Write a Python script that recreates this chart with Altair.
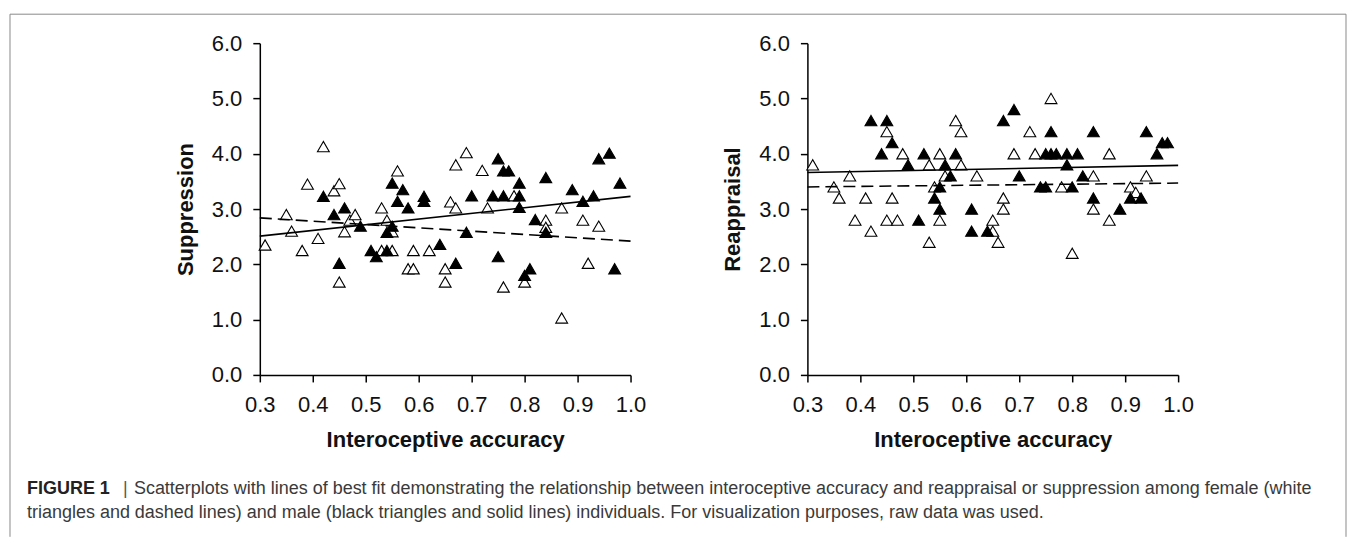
import altair as alt
import pandas as pd

FONT = "Liberation Sans"

# ---------------- data: Suppression panel ----------------
sup_female_x = [0.31, 0.35, 0.36, 0.38, 0.39, 0.41, 0.42, 0.44, 0.45, 0.45, 0.46, 0.47, 0.48,
                0.53, 0.53, 0.54, 0.55, 0.55, 0.56, 0.58, 0.59, 0.59, 0.62, 0.65, 0.65, 0.66,
                0.67, 0.67, 0.69, 0.72, 0.73, 0.76, 0.78, 0.80, 0.84, 0.84, 0.87, 0.87, 0.91,
                0.92, 0.94]
sup_female_y = [2.35, 2.90, 2.60, 2.25, 3.45, 2.47, 4.13, 3.33, 3.46, 1.68, 2.59, 2.80, 2.90,
                3.02, 2.25, 2.80, 2.59, 2.25, 3.69, 1.92, 1.92, 2.25, 2.25, 1.92, 1.68, 3.13,
                3.80, 3.02, 4.02, 3.70, 3.02, 1.59, 3.24, 1.68, 2.80, 2.67, 3.02, 1.03, 2.80,
                2.02, 2.69]
sup_male_x = [0.42, 0.44, 0.45, 0.46, 0.49, 0.51, 0.52, 0.54, 0.54, 0.55, 0.55, 0.56, 0.57,
              0.58, 0.61, 0.61, 0.64, 0.67, 0.69, 0.70, 0.74, 0.75, 0.75, 0.76, 0.77, 0.76,
              0.79, 0.79, 0.79, 0.80, 0.81, 0.82, 0.84, 0.84, 0.89, 0.91, 0.93, 0.94, 0.96,
              0.97, 0.98]
sup_male_y = [3.23, 2.90, 2.02, 3.02, 2.69, 2.25, 2.14, 2.25, 2.58, 3.47, 2.69, 3.14, 3.35,
              3.02, 3.23, 3.14, 2.36, 2.02, 2.58, 3.24, 3.24, 3.91, 2.14, 3.69, 3.69, 3.24,
              3.47, 3.24, 3.03, 1.80, 1.92, 2.81, 3.57, 2.58, 3.35, 3.14, 3.24, 3.91, 4.01,
              1.92, 3.47]
sup_fit_x = [0.3, 1.0]
sup_fit_male_y = [2.51, 3.23]
sup_fit_female_y = [2.84, 2.42]

# ---------------- data: Reappraisal panel ----------------
rea_female_x = [0.31, 0.35, 0.36, 0.38, 0.39, 0.41, 0.42, 0.45, 0.45, 0.46, 0.47, 0.48, 0.53,
                0.53, 0.54, 0.55, 0.55, 0.56, 0.58, 0.59, 0.59, 0.62, 0.65, 0.65, 0.66, 0.67,
                0.67, 0.69, 0.72, 0.73, 0.76, 0.78, 0.80, 0.84, 0.84, 0.87, 0.87, 0.91, 0.92,
                0.94]
rea_female_y = [3.8, 3.4, 3.2, 3.6, 2.8, 3.2, 2.6, 4.4, 2.8, 3.2, 2.8, 4.0, 3.8,
                2.4, 3.4, 4.0, 2.8, 3.6, 4.6, 4.4, 3.8, 3.6, 2.8, 2.6, 2.4, 3.2,
                3.0, 4.0, 4.4, 4.0, 5.0, 3.4, 2.2, 3.6, 3.0, 4.0, 2.8, 3.4, 3.3,
                3.6]
rea_male_x = [0.42, 0.45, 0.44, 0.46, 0.49, 0.51, 0.52, 0.54, 0.55, 0.55, 0.56, 0.57, 0.58,
              0.61, 0.61, 0.64, 0.67, 0.69, 0.70, 0.74, 0.75, 0.76, 0.75, 0.76, 0.77, 0.79,
              0.81, 0.79, 0.80, 0.82, 0.84, 0.84, 0.89, 0.91, 0.93, 0.94, 0.96, 0.97, 0.98]
rea_male_y = [4.6, 4.6, 4.0, 4.2, 3.8, 2.8, 4.0, 3.2, 3.4, 3.0, 3.8, 3.6, 4.0,
              3.0, 2.6, 2.6, 4.6, 4.8, 3.6, 3.4, 3.4, 4.4, 4.0, 4.0, 4.0, 4.0,
              4.0, 3.8, 3.4, 3.6, 4.4, 3.2, 3.0, 3.2, 3.2, 4.4, 4.0, 4.2, 4.2]
rea_fit_x = [0.3, 1.0]
rea_fit_male_y = [3.66, 3.79]
rea_fit_female_y = [3.40, 3.47]

x_ticks = [0.3, 0.4, 0.5, 0.6, 0.7, 0.8, 0.9, 1.0]
y_ticks = [0, 1, 2, 3, 4, 5, 6]

x_title = "Interoceptive accuracy"
y_titles = ["Suppression", "Reappraisal"]

caption_bold = ["FIGURE 1"]
caption_sep = ["|"]
caption_line1 = ["Scatterplots with lines of best fit demonstrating the relationship between "
                 "interoceptive accuracy and reappraisal or suppression among female (white"]
caption_line2 = ["triangles and dashed lines) and male (black triangles and solid lines) "
                 "individuals. For visualization purposes, raw data was used."]


def panel(fx, fy, mx, my, fit_x, fit_m, fit_f, ytitle, w):
    xs = alt.Scale(domain=[0.3, 1.0], nice=False, zero=False)
    ys = alt.Scale(domain=[0, 6], nice=False, zero=False)
    xa = alt.Axis(values=x_ticks, format=".1f", title=x_title, grid=False,
                  labelFlush=False, labelOverlap=False, tickSize=7,
                  labelPadding=13, titlePadding=14)
    ya = alt.Axis(values=y_ticks, format=".1f", title=ytitle, grid=False,
                  labelOverlap=False, tickSize=7, labelPadding=11, titlePadding=14)
    X = alt.X("x:Q", scale=xs, axis=xa)
    Y = alt.Y("y:Q", scale=ys, axis=ya)
    female = alt.Chart(pd.DataFrame({"x": fx, "y": fy})).mark_point(
        shape="triangle-up", size=140, filled=True, fill="white", stroke="black",
        strokeWidth=1.1, opacity=1).encode(x=X, y=Y)
    male = alt.Chart(pd.DataFrame({"x": mx, "y": my})).mark_point(
        shape="triangle-up", size=140, filled=True, fill="black", stroke="black",
        strokeWidth=1.1, opacity=1).encode(x=X, y=Y)
    male_line = alt.Chart(pd.DataFrame({"x": fit_x, "y": fit_m})).mark_line(
        color="black", strokeWidth=1.6).encode(x=X, y=Y)
    female_line = alt.Chart(pd.DataFrame({"x": fit_x, "y": fit_f})).mark_line(
        color="black", strokeWidth=1.6, strokeDash=[12, 6]).encode(x=X, y=Y)
    return alt.layer(female, male, male_line, female_line).properties(width=w, height=332)


left = panel(sup_female_x, sup_female_y, sup_male_x, sup_male_y,
             sup_fit_x, sup_fit_male_y, sup_fit_female_y, y_titles[0], 371)
right = panel(rea_female_x, rea_female_y, rea_male_x, rea_male_y,
              rea_fit_x, rea_fit_male_y, rea_fit_female_y, y_titles[1], 371)

# caption + figure frame (positions relative to the caption cell origin)
cap_bold = alt.Chart(pd.DataFrame({"t": caption_bold})).mark_text(
    align="left", baseline="alphabetic", font=FONT, fontSize=18, fontWeight="bold",
    color="#222222").encode(x=alt.value(-233), y=alt.value(59), text="t:N")
cap_sep = alt.Chart(pd.DataFrame({"t": caption_sep})).mark_text(
    align="left", baseline="alphabetic", font=FONT, fontSize=18,
    color="#555555").encode(x=alt.value(-137), y=alt.value(59), text="t:N")
cap_l1 = alt.Chart(pd.DataFrame({"t": caption_line1})).mark_text(
    align="left", baseline="alphabetic", font=FONT, fontSize=18,
    color="#3a3a3a").encode(x=alt.value(-126), y=alt.value(59), text="t:N")
cap_l2 = alt.Chart(pd.DataFrame({"t": caption_line2})).mark_text(
    align="left", baseline="alphabetic", font=FONT, fontSize=18,
    color="#3a3a3a").encode(x=alt.value(-233), y=alt.value(83), text="t:N")

frame_src = pd.DataFrame({"k": [0]})
frame_top = alt.Chart(frame_src).mark_rule(color="#8a8a8a", strokeWidth=1).encode(
    x=alt.value(-250), x2=alt.value(1087), y=alt.value(-421))
frame_left = alt.Chart(frame_src).mark_rule(color="#8a8a8a", strokeWidth=1).encode(
    x=alt.value(-250), y=alt.value(-421), y2=alt.value(102))
frame_right = alt.Chart(frame_src).mark_rule(color="#8a8a8a", strokeWidth=1).encode(
    x=alt.value(1087), y=alt.value(-421), y2=alt.value(102))

caption = alt.layer(frame_top, frame_left, frame_right, cap_bold, cap_sep, cap_l1, cap_l2).properties(
    width=1, height=1)

chart = alt.concat(left, right, caption, columns=2, bounds="flush",
                   spacing={"row": 60, "column": 177}).properties(
    padding={"left": 1, "top": 5, "right": 0, "bottom": 0},
    background="white",
).configure_axis(
    domainColor="black", tickColor="black", domainWidth=1.5, tickWidth=1.5,
    labelFont=FONT, labelFontSize=22, labelColor="#111111",
    titleFont=FONT, titleFontSize=22, titleFontWeight="bold", titleColor="#111111",
).configure_view(stroke="transparent")

chart.save("out.html", embed_options={"renderer": "svg", "actions": False})
